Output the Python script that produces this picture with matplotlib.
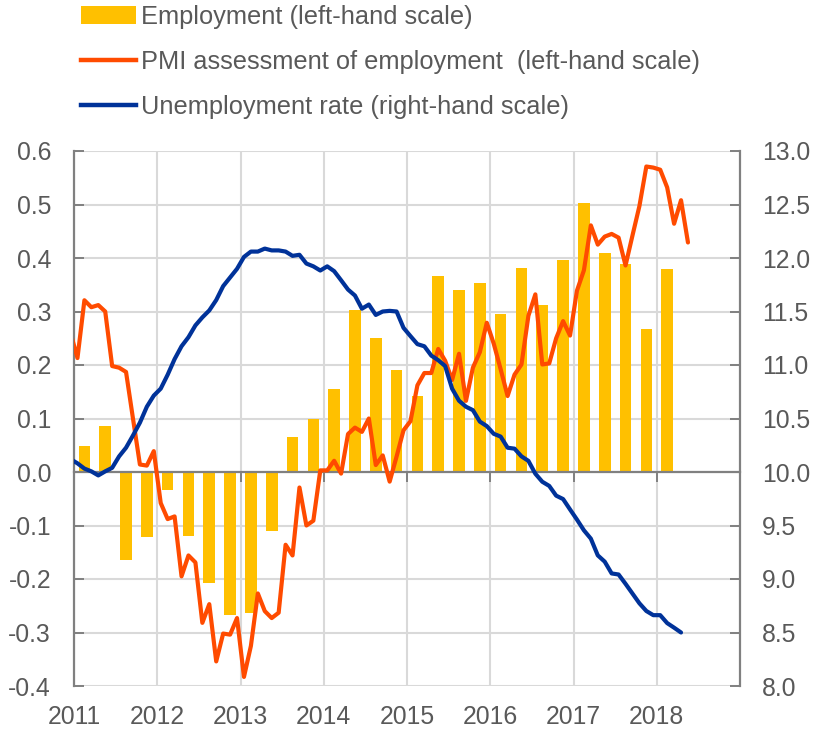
import numpy as np
import matplotlib
matplotlib.use("Agg")
import matplotlib.pyplot as plt
from matplotlib.patches import Patch
from matplotlib.lines import Line2D
from matplotlib.ticker import FixedLocator, FuncFormatter

plt.rcParams['font.family'] = ['Liberation Sans', 'DejaVu Sans']
plt.rcParams['axes.unicode_minus'] = False

# ---------------- data ----------------
# quarterly employment growth, Q1 2011 .. Q1 2018 (left-hand scale)
emp_years = [2011] * 4 + [2012] * 4 + [2013] * 4 + [2014] * 4 + [2015] * 4 + [2016] * 4 + [2017] * 4 + [2018]
emp_quarters = [1, 2, 3, 4] * 7 + [1]
employment = [0.048, 0.086, -0.165, -0.121,
              -0.034, -0.119, -0.207, -0.267,
              -0.264, -0.111, 0.066, 0.100,
              0.156, 0.302, 0.251, 0.190,
              0.142, 0.366, 0.341, 0.353,
              0.295, 0.381, 0.313, 0.396,
              0.503, 0.410, 0.388, 0.268,
              0.379]

# monthly series start in Dec 2010 (month index -1 relative to Jan 2011)
pmi_start_month = -1
pmi = [0.26, 0.213, 0.321, 0.308, 0.312, 0.300, 0.198, 0.195, 0.187, 0.100,
       0.014, 0.012, 0.039, -0.058, -0.088, -0.083, -0.195, -0.156, -0.169, -0.282,
       -0.247, -0.354, -0.302, -0.304, -0.273, -0.383, -0.325, -0.227, -0.260, -0.273,
       -0.263, -0.136, -0.156, -0.029, -0.100, -0.091, 0.003, 0.003, 0.021, -0.003,
       0.071, 0.083, 0.075, 0.100, 0.013, 0.031, -0.018, 0.029, 0.078, 0.095,
       0.162, 0.185, 0.185, 0.230, 0.208, 0.172, 0.221, 0.133, 0.195, 0.224,
       0.279, 0.240, 0.192, 0.142, 0.182, 0.201, 0.292, 0.332, 0.201, 0.203,
       0.250, 0.282, 0.255, 0.339, 0.377, 0.461, 0.425, 0.440, 0.445, 0.438,
       0.386, 0.442, 0.497, 0.571, 0.569, 0.565, 0.532, 0.464, 0.508, 0.429]

unemp_start_month = -1
unemployment = [10.12, 10.081, 10.032, 10.006, 9.968, 10.006, 10.039, 10.146, 10.227, 10.341,
                10.461, 10.610, 10.714, 10.779, 10.909, 11.055, 11.175, 11.260, 11.370, 11.445,
                11.510, 11.607, 11.737, 11.818, 11.899, 12.010, 12.060, 12.060, 12.088, 12.071,
                12.071, 12.060, 12.020, 12.030, 11.948, 11.922, 11.883, 11.922, 11.877, 11.792,
                11.705, 11.649, 11.526, 11.565, 11.468, 11.500, 11.506, 11.500, 11.347, 11.270,
                11.195, 11.175, 11.088, 11.045, 10.990, 10.779, 10.666, 10.610, 10.578, 10.471,
                10.429, 10.357, 10.331, 10.227, 10.218, 10.146, 10.104, 9.984, 9.909, 9.870,
                9.779, 9.747, 9.650, 9.555, 9.455, 9.377, 9.221, 9.162, 9.052, 9.042,
                8.955, 8.864, 8.773, 8.701, 8.662, 8.662, 8.588, 8.545, 8.500]

year_ticks = [2011, 2012, 2013, 2014, 2015, 2016, 2017, 2018]
left_ticks = [-0.4, -0.3, -0.2, -0.1, 0.0, 0.1, 0.2, 0.3, 0.4, 0.5, 0.6]
right_ticks = [8.0, 8.5, 9.0, 9.5, 10.0, 10.5, 11.0, 11.5, 12.0, 12.5, 13.0]

labels = ["Employment (left-hand scale)",
          "PMI assessment of employment  (left-hand scale)",
          "Unemployment rate (right-hand scale)"]

# ---------------- positions ----------------
emp_x = np.array(emp_years) + (np.array(emp_quarters) - 0.5) / 4.0
pmi_x = 2011 + (np.arange(len(pmi)) + pmi_start_month + 0.5) / 12.0
un_x = 2011 + (np.arange(len(unemployment)) + unemp_start_month + 0.5) / 12.0

# ---------------- style ----------------
BAR = "#FFC000"
ORANGE = "#FF4B00"
BLUE = "#003299"
GRID = "#D9D9D9"
SPINE = "#808080"
TEXT = "#595959"
FS = 17.8
LFS = 18.3

fig = plt.figure(figsize=(8.15, 7.3), dpi=100)
ax = fig.add_axes([74 / 815, 1 - 686 / 730, (740 - 74) / 815, (686 - 151) / 730])
ax2 = ax.twinx()

ax.set_xlim(2011, 2019)
ax.set_ylim(-0.4, 0.6)
ax2.set_ylim(8.0, 13.0)

# grid
ax.yaxis.set_major_locator(FixedLocator(left_ticks))
ax.xaxis.set_major_locator(FixedLocator(year_ticks))
ax.grid(True, color=GRID, linewidth=1.5, zorder=0)
ax.set_axisbelow(True)

# data
ax.bar(emp_x, employment, width=0.14, color=BAR, zorder=2, label=labels[0])
ax.plot(pmi_x, pmi, color=ORANGE, linewidth=3.0, zorder=3, solid_joinstyle='round',
        solid_capstyle='round', label=labels[1])
ax2.plot(un_x, unemployment, color=BLUE, linewidth=3.0, zorder=3, solid_joinstyle='round',
         solid_capstyle='round', label=labels[2])

# zero line with year ticks
ax.spines['bottom'].set_position(('data', 0.0))
ax.spines['bottom'].set_color(SPINE)
ax.spines['bottom'].set_linewidth(1.6)
ax.spines['bottom'].set_zorder(2.5)
ax.tick_params(axis='x', which='major', direction='out', length=7, width=1.4,
               color=SPINE, labelbottom=False)

sec = ax.secondary_xaxis(0.0)
sec.xaxis.set_major_locator(FixedLocator(year_ticks))
sec.xaxis.set_major_formatter(FuncFormatter(lambda v, p: f"{int(round(v))}"))
sec.spines['bottom'].set_visible(False)
sec.tick_params(axis='x', length=0, pad=14, labelsize=FS, labelcolor=TEXT)

# top spine hidden (gridline visible)
ax.spines['top'].set_visible(False)
ax2.spines['top'].set_visible(False)
ax2.spines['bottom'].set_visible(False)

# left axis
ax.spines['left'].set_color(SPINE)
ax.spines['left'].set_linewidth(1.6)
ax.yaxis.set_major_formatter(FuncFormatter(lambda v, p: f"{v:.1f}"))
ax.tick_params(axis='y', direction='in', length=7, width=1.4, color=SPINE,
               labelsize=FS, labelcolor=TEXT, pad=16.5)

# right axis
ax.spines['right'].set_visible(False)
ax2.spines['left'].set_visible(False)
ax2.spines['right'].set_color(SPINE)
ax2.spines['right'].set_linewidth(1.6)
ax2.yaxis.set_major_locator(FixedLocator(right_ticks))
ax2.yaxis.set_major_formatter(FuncFormatter(lambda v, p: f"{v:.1f}"))
ax2.tick_params(axis='y', direction='in', length=7, width=1.4, color=SPINE,
                labelsize=FS, labelcolor=TEXT, pad=16.0)

# legend
handles = [Patch(facecolor=BAR, edgecolor='none'),
           Line2D([0], [0], color=ORANGE, linewidth=3.2),
           Line2D([0], [0], color=BLUE, linewidth=3.2)]
leg = fig.legend(handles, labels, loc='upper left',
                 bbox_to_anchor=(81 / 815, 1 - 5 / 730),
                 frameon=False, fontsize=LFS, handlelength=2.15, handleheight=0.72,
                 handletextpad=0.2, labelspacing=0.82, borderpad=0, borderaxespad=0)
for t in leg.get_texts():
    t.set_color(TEXT)

fig.savefig("out.png", dpi=100)
